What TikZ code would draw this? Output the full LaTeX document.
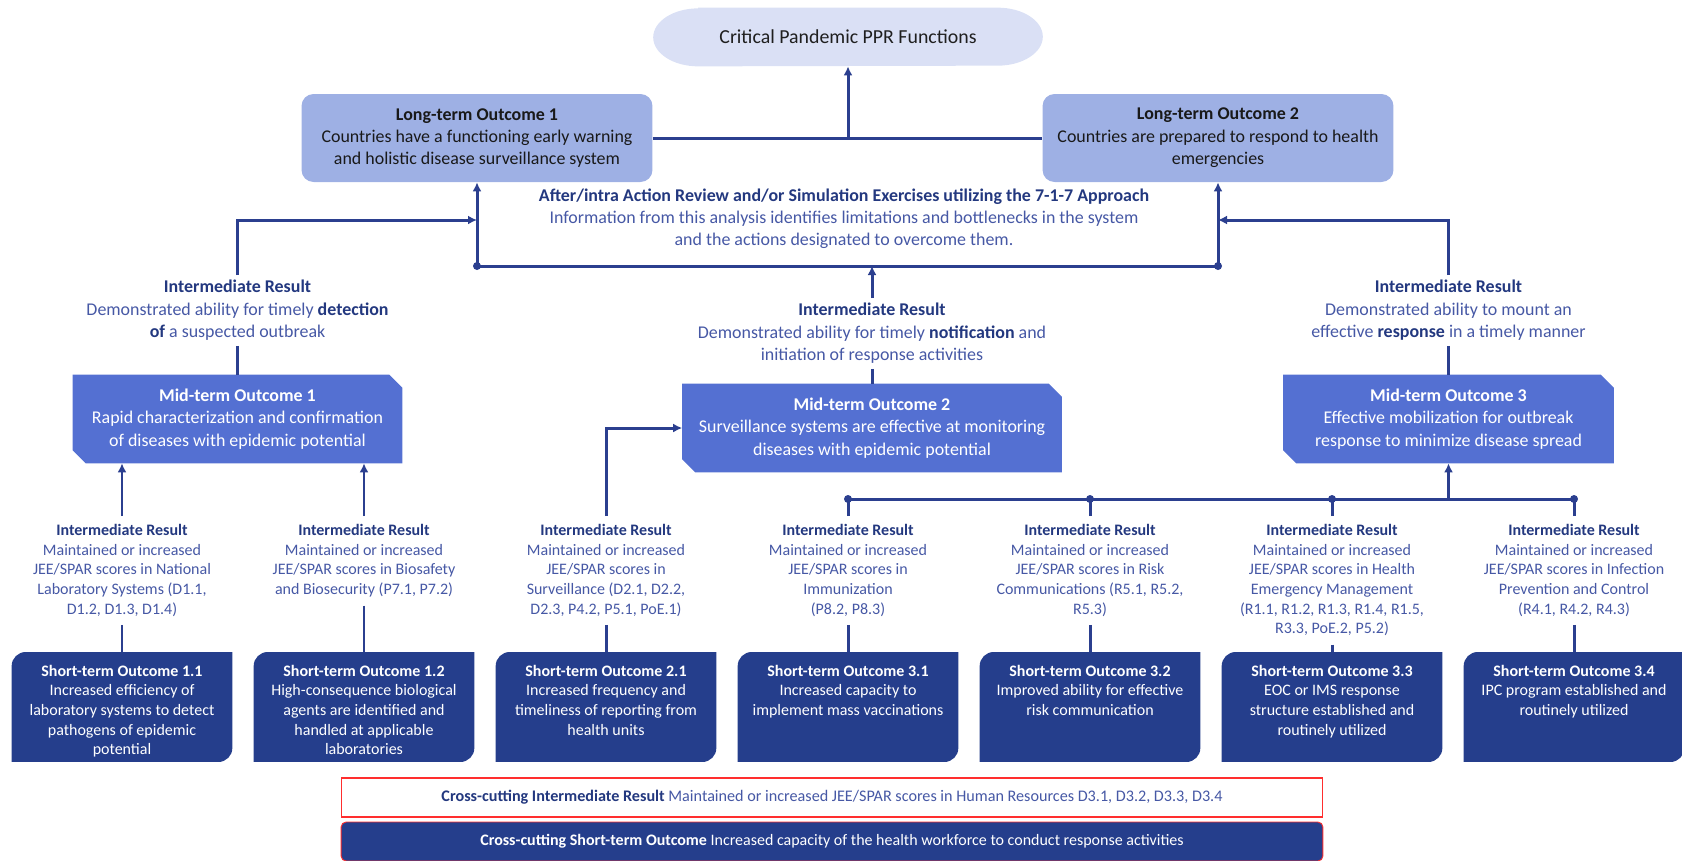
\documentclass[tikz,border=0pt]{standalone}
\usepackage{fontspec}
\setmainfont{Carlito}
\usetikzlibrary{arrows.meta}
\usetikzlibrary{positioning}
\usetikzlibrary{backgrounds}

\definecolor{pprfill}{HTML}{DAE0F5}
\definecolor{ltofill}{HTML}{9EB0E4}
\definecolor{mtofill}{HTML}{5470D2}
\definecolor{stofill}{HTML}{253E8C}
\definecolor{linkblue}{HTML}{2B3F8F}
\definecolor{irdark}{HTML}{23387F}
\definecolor{irtext}{HTML}{4658A5}
\definecolor{ccred}{HTML}{FF2E2E}

\newcommand{\irhead}[1]{{\color{irdark}\bfseries #1}}

\tikzset{
  ppr/.style={rectangle, minimum width=7.78cm, minimum height=1.16cm,
    text=black!88, font={\fontsize{11.3pt}{13.6pt}\selectfont}},
  lto/.style={rectangle, rounded corners=0.24cm, fill=ltofill, minimum width=7.02cm,
    minimum height=1.76cm, align=center, text=black!90, font={\fontsize{10.2pt}{12.75pt}\selectfont}},
  review/.style={align=center, text=irtext, inner sep=0.1cm, font={\fontsize{10.2pt}{12.5pt}\selectfont}},
  irtop/.style={align=center, text=irtext, inner xsep=0.1cm, inner ysep=0.1cm,
    font={\fontsize{10.2pt}{12.75pt}\selectfont}},
  mto/.style={rectangle, minimum height=1.76cm, align=center, text=white,
    font={\fontsize{10.2pt}{12.75pt}\selectfont}},
  irbot/.style={align=center, text=irtext, inner xsep=0.1cm, inner ysep=0.16cm,
    font={\fontsize{9.1pt}{11.2pt}\selectfont}},
  sto/.style={rectangle, minimum width=4.4cm, inner xsep=0.1cm, inner ysep=0.25cm, align=center,
    text=white, font={\fontsize{9.1pt}{11.2pt}\selectfont}},
  ccir/.style={rectangle, draw=ccred, line width=0.6pt, fill=white, minimum width=19.64cm,
    minimum height=0.78cm, text=irtext, font={\fontsize{9.2pt}{11pt}\selectfont}},
  ccsto/.style={rectangle, rounded corners=0.1cm, draw=ccred, line width=0.5pt, fill=stofill,
    minimum width=19.64cm, minimum height=0.78cm, text=white, font={\fontsize{9.1pt}{11pt}\selectfont}},
  link/.style={draw=linkblue, line width=1.7pt},
  >={Latex[length=1.8mm,width=1.8mm]},
}

\begin{document}
\begin{tikzpicture}[x=0.02cm, y=-0.02cm]
\useasboundingbox (0,0) rectangle (1682,860);

% long-term level
\node[ppr] (ppr) at (848,37) {Critical Pandemic PPR Functions};
\node[lto] (lto1) at (477,138) {\textbf{Long-term Outcome 1}\\Countries have a functioning early warning\\and holistic disease surveillance system};
\node[lto] (lto2) at (1218,138) {\textbf{Long-term Outcome 2}\\Countries are prepared to respond to health\\emergencies};
\node[review, anchor=north] (review) at (844,184) {\irhead{After/intra Action Review and/or Simulation Exercises utilizing the 7-1-7 Approach}\\Information from this analysis identifies limitations and bottlenecks in the system\\and the actions designated to overcome them.};

% intermediate results above mid-term
\node[irtop, anchor=north] (irdet) at (237.5,275) {\irhead{Intermediate Result}\\Demonstrated ability for timely \irhead{detection}\\\irhead{of} a suspected outbreak};
\node[irtop, anchor=north] (irnot) at (872,298) {\irhead{Intermediate Result}\\Demonstrated ability for timely \irhead{notification} and\\initiation of response activities};
\node[irtop, anchor=north] (irresp) at (1448.5,275) {\irhead{Intermediate Result}\\Demonstrated ability to mount an\\effective \irhead{response} in a timely manner};

% mid-term level
\node[mto, minimum width=6.58cm] (mto1) at (237.5,419) {\textbf{Mid-term Outcome 1}\\Rapid characterization and confirmation\\of diseases with epidemic potential};
\node[mto, minimum width=7.58cm] (mto2) at (872,428) {\textbf{Mid-term Outcome 2}\\Surveillance systems are effective at monitoring\\diseases with epidemic potential};
\node[mto, minimum width=6.6cm] (mto3) at (1448.5,419) {\textbf{Mid-term Outcome 3}\\Effective mobilization for outbreak\\response to minimize disease spread};

% intermediate results above short-term
\node[irbot, anchor=north] (ir11) at (122,516) {\irhead{Intermediate Result}\\Maintained or increased\\JEE/SPAR scores in National\\Laboratory Systems (D1.1,\\D1.2, D1.3, D1.4)};
\node[irbot, anchor=north] (ir12) at (364,516) {\irhead{Intermediate Result}\\Maintained or increased\\JEE/SPAR scores in Biosafety\\and Biosecurity (P7.1, P7.2)};
\node[irbot, anchor=north] (ir21) at (606,516) {\irhead{Intermediate Result}\\Maintained or increased\\JEE/SPAR scores in\\Surveillance (D2.1, D2.2,\\D2.3, P4.2, P5.1, PoE.1)};
\node[irbot, anchor=north] (ir31) at (848,516) {\irhead{Intermediate Result}\\Maintained or increased\\JEE/SPAR scores in\\Immunization\\(P8.2, P8.3)};
\node[irbot, anchor=north] (ir32) at (1090,516) {\irhead{Intermediate Result}\\Maintained or increased\\JEE/SPAR scores in Risk\\Communications (R5.1, R5.2,\\R5.3)};
\node[irbot, anchor=north] (ir33) at (1332,516) {\irhead{Intermediate Result}\\Maintained or increased\\JEE/SPAR scores in Health\\Emergency Management\\(R1.1, R1.2, R1.3, R1.4, R1.5,\\R3.3, PoE.2, P5.2)};
\node[irbot, anchor=north] (ir34) at (1574,516) {\irhead{Intermediate Result}\\Maintained or increased\\JEE/SPAR scores in Infection\\Prevention and Control\\(R4.1, R4.2, R4.3)};

% short-term level
\node[sto, anchor=north] (sto11) at (122,652) {\textbf{Short-term Outcome 1.1}\\Increased efficiency of\\laboratory systems to detect\\pathogens of epidemic\\potential};
\node[sto, anchor=north] (sto12) at (364,652) {\textbf{Short-term Outcome 1.2}\\High-consequence biological\\agents are identified and\\handled at applicable\\laboratories};
\node[sto, anchor=north] (sto21) at (606,652) {\textbf{Short-term Outcome 2.1}\\Increased frequency and\\timeliness of reporting from\\health units};
\node[sto, anchor=north] (sto31) at (848,652) {\textbf{Short-term Outcome 3.1}\\Increased capacity to\\implement mass vaccinations};
\node[sto, anchor=north] (sto32) at (1090,652) {\textbf{Short-term Outcome 3.2}\\Improved ability for effective\\risk communication};
\node[sto, anchor=north] (sto33) at (1332,652) {\textbf{Short-term Outcome 3.3}\\EOC or IMS response\\structure established and\\routinely utilized};
\node[sto, anchor=north] (sto34) at (1574,652) {\textbf{Short-term Outcome 3.4}\\IPC program established and\\routinely utilized};

% cross-cutting
\node[ccir] (ccir) at (832,797.5) {\irhead{Cross-cutting Intermediate Result} Maintained or increased JEE/SPAR scores in Human Resources D3.1, D3.2, D3.3, D3.4};
\node[ccsto] (ccsto) at (832,841.5) {\textbf{Cross-cutting Short-term Outcome} Increased capacity of the health workforce to conduct response activities};

% box shapes behind the texts
\begin{scope}[on background layer]
\fill[pprfill] ([xshift=0.9cm]ppr.north west) -- ([xshift=-0.9cm]ppr.north east)
  arc[start angle=90, end angle=-90, x radius=0.9cm, y radius=0.58cm]
  -- ([xshift=0.9cm]ppr.south west)
  arc[start angle=270, end angle=90, x radius=0.9cm, y radius=0.58cm] -- cycle;
\foreach \m in {mto1,mto2,mto3}
  \fill[mtofill] ([yshift=0.26cm]\m.south west) -- (\m.north west) -- ([xshift=-0.26cm]\m.north east)
    -- ([yshift=-0.26cm]\m.north east) -- (\m.south east) -- ([xshift=0.26cm]\m.south west) -- cycle;
\foreach \s in {sto11,sto12,sto21,sto31,sto32,sto33,sto34}
  \fill[stofill] ([yshift=-2.2cm]\s.north west) -- ([yshift=-0.28cm]\s.north west)
    arc[start angle=180, end angle=90, radius=0.28cm] -- (\s.north east)
    -- ([yshift=-1.92cm]\s.north east) arc[start angle=0, end angle=-90, radius=0.28cm] -- cycle;
\end{scope}

% long-term links
\coordinate (fbus1) at (477,266);
\coordinate (fbus2) at (1218,266);
\coordinate (fbL) at (477,220);
\coordinate (fbR) at (1218,220);
\draw[link] (lto1.east) -- (lto2.west);
\draw[link, ->] (lto1.east -| ppr.south) -- (ppr.south);
\draw[link] (fbus1) -- (fbus2);
\draw[link, ->] (fbus1) -- (lto1.south);
\draw[link, ->] (fbus2) -- (lto2.south);
\fill[linkblue] (fbus1) circle[radius=0.08cm] (fbus2) circle[radius=0.08cm];
\draw[link, ->] (irdet.north) |- (fbL);
\draw[link, ->] (irresp.north) |- (fbR);
\draw[link, ->] (irnot.north) -- (irnot.north |- fbus1);
\draw[link] (irdet.south) -- (mto1.north);
\draw[link] (irnot.south) -- (mto2.north);
\draw[link] (irresp.south) -- (mto3.north);

% mid-term links
\coordinate (sbus1) at (848,499);
\coordinate (sbus2) at (1574,499);
\draw[link, ->] (ir11.north) -- (ir11.north |- mto1.south);
\draw[link, ->] (ir12.north) -- (ir12.north |- mto1.south);
\draw[link, ->] (ir21.north) |- (mto2.west);
\draw[link] (sbus1) -- (sbus2);
\foreach \i in {ir31,ir32,ir33,ir34} {
  \draw[link] (\i.north) -- (\i.north |- sbus1);
  \fill[linkblue] (\i.north |- sbus1) circle[radius=0.08cm];
}
\draw[link, ->] (mto3.south |- sbus1) -- (mto3.south);

% short-term links
\foreach \i/\s in {ir11/sto11,ir12/sto12,ir21/sto21,ir31/sto31,ir32/sto32,ir33/sto33,ir34/sto34}
  \draw[link] (\i.south) -- (\s.north);
\end{tikzpicture}
\end{document}
